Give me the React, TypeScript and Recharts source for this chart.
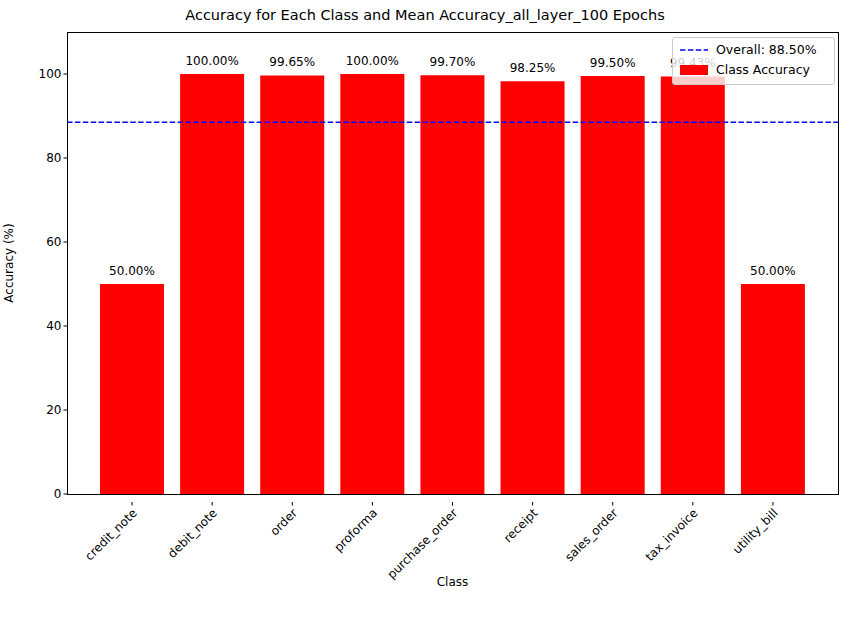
import { BarChart, Bar, XAxis, YAxis, ReferenceLine, LabelList, Label } from 'recharts';

const classes = ['credit_note', 'debit_note', 'order', 'proforma', 'purchase_order', 'receipt', 'sales_order', 'tax_invoice', 'utility_bill'];
const accuracy = [50.0, 100.0, 99.65, 100.0, 99.7, 98.25, 99.5, 99.43, 50.0];
const overall = 88.5;
const yTicks = [0, 20, 40, 60, 80, 100];

const data = classes.map((c, i) => ({ name: c, acc: accuracy[i] }));
const font = 'DejaVu Sans, sans-serif';

function RotTick(props: any) {
  const { x, y, payload } = props;
  return (
    <g transform={`translate(${x},${y + 6})`}>
      <line x1={0} y1={-6} x2={0} y2={-2.5} stroke="#000" />
      <text transform="rotate(-45)" textAnchor="end" dy={8} fontSize={12} fontFamily={font} fill="#000">
        {payload.value}
      </text>
    </g>
  );
}

export default function App() {
  return (
    <div style={{ position: 'absolute', left: 0, top: 0, width: 850, height: 619, background: '#fff', fontFamily: font }}>
      <div style={{ position: 'absolute', top: 7, width: 850, textAlign: 'center', fontSize: 14.5 }}>
        Accuracy for Each Class and Mean Accuracy_all_layer_100 Epochs
      </div>
      <BarChart width={850} height={619} data={data} margin={{ top: 32, right: 12, left: 17, bottom: 25 }}>
        <XAxis dataKey="name" height={100} tick={<RotTick />} tickLine={false} axisLine={false}
          padding={{ left: 25, right: 25 }} interval={0}>
          <Label value="Class" position="insideBottom" offset={8} fontSize={12} fontFamily={font} fill="#000" />
        </XAxis>
        <YAxis width={50} domain={[0, 110]} ticks={yTicks} axisLine={false} tickSize={3.5}
          tick={{ fontSize: 12, fontFamily: font, fill: '#000' }} stroke="#000">
          <Label value="Accuracy (%)" angle={-90} position="insideLeft" offset={0} dx={-8} fontSize={12} fontFamily={font} fill="#000" style={{ textAnchor: 'middle' }} />
        </YAxis>
        <Bar dataKey="acc" fill="#ff0000" barSize={64} isAnimationActive={false}>
          <LabelList dataKey="acc" position="top" offset={9} fontSize={12} fontFamily={font} fill="#000"
            formatter={(v: any) => `${Number(v).toFixed(2)}%`} />
        </Bar>
        <ReferenceLine y={overall} stroke="#0000ff" strokeWidth={1.5} strokeDasharray="5.5 2.4" ifOverflow="extendDomain" />
      </BarChart>
      <div style={{ position: 'absolute', left: 67, top: 32, width: 770, height: 461, border: '1px solid #000', pointerEvents: 'none' }} />
      <div style={{ position: 'absolute', left: 672, top: 37, width: 161, height: 46, border: '1px solid #ccc', borderRadius: 3, background: 'rgba(255,255,255,0.8)', fontSize: 12.5 }}>
        <div style={{ position: 'absolute', left: 7, top: 4, display: 'flex', alignItems: 'center' }}>
          <svg width={28} height={10}><line x1={0} y1={5} x2={28} y2={5} stroke="#0000ff" strokeWidth={1.5} strokeDasharray="5.5 2.4" /></svg>
          <span style={{ marginLeft: 8 }}>Overall: 88.50%</span>
        </div>
        <div style={{ position: 'absolute', left: 7, top: 24, display: 'flex', alignItems: 'center' }}>
          <svg width={28} height={10}><rect x={0} y={0} width={28} height={10} fill="#ff0000" /></svg>
          <span style={{ marginLeft: 8 }}>Class Accuracy</span>
        </div>
      </div>
    </div>
  );
}
